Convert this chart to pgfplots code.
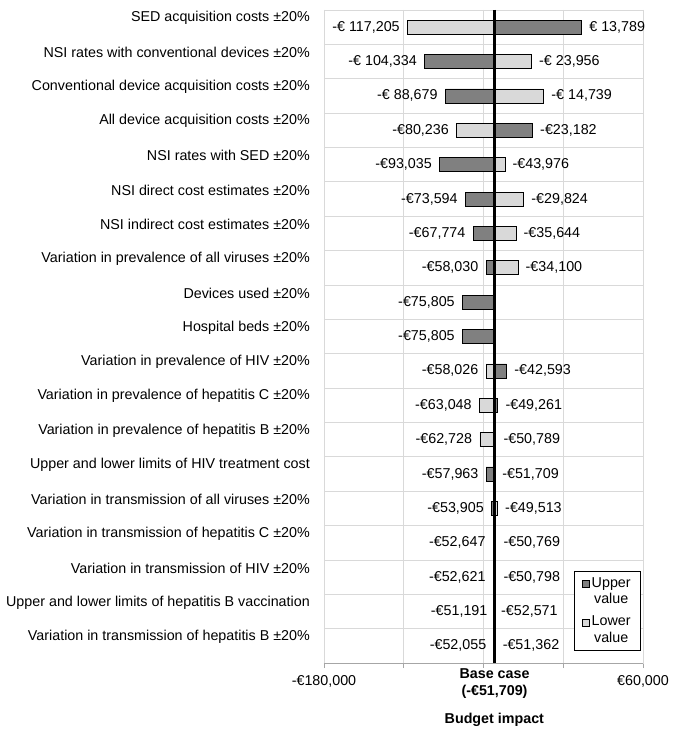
\documentclass[border=0pt]{standalone}
\usepackage{pgfplots}
\pgfplotsset{compat=1.18}
\usepackage{pgfplotstable}
\usepackage{fontspec}
\setmainfont{Liberation Sans}

\definecolor{upperbar}{RGB}{128,128,128}
\definecolor{lowerbar}{RGB}{217,217,217}
\definecolor{gridgrey}{RGB}{217,217,217}

% bars start at the base case (-51,709), so x is shifted by this much
\def\shift{51709}

% upper value, label on the left of the bar
\pgfplotstableread[col sep=semicolon]{
row;val;lab
1;-104334;-€ 104,334
2;-88679;-€ 88,679
4;-93035;-€93,035
5;-73594;-€73,594
6;-67774;-€67,774
7;-58030;-€58,030
8;-75805;-€75,805
9;-75805;-€75,805
13;-57963;-€57,963
14;-53905;-€53,905
15;-52647;-€52,647
16;-52621;-€52,621
17;-51191;-€51,191
18;-52055;-€52,055
}\upperleft

% upper value, label on the right
\pgfplotstableread[col sep=semicolon]{
row;val;lab
0;13789;€ 13,789
3;-23182;-€23,182
10;-42593;-€42,593
11;-49261;-€49,261
12;-50789;-€50,789
}\upperright

% lower value, label on the left
\pgfplotstableread[col sep=semicolon]{
row;val;lab
0;-117205;-€ 117,205
3;-80236;-€80,236
10;-58026;-€58,026
11;-63048;-€63,048
12;-62728;-€62,728
}\lowerleft

% lower value, label on the right
\pgfplotstableread[col sep=semicolon]{
row;val;lab
1;-23956;-€ 23,956
2;-14739;-€ 14,739
4;-43976;-€43,976
5;-29824;-€29,824
6;-35644;-€35,644
7;-34100;-€34,100
13;-51709;-€51,709
14;-49513;-€49,513
15;-50769;-€50,769
16;-50798;-€50,798
17;-52571;-€52,571
18;-51362;-€51,362
}\lowerright

\begin{document}
\fontsize{14.3}{16.7}\selectfont
\begin{tikzpicture}
\begin{axis}[
    scale only axis,
    width=319pt, height=653pt,
    xmin=-128291, xmax=111709,
    ymin=-0.5, ymax=18.5,
    y dir=reverse,
    xbar, bar width=14pt, bar shift=0pt,
    axis line style={draw=gridgrey},
    tick align=outside,
    xtick pos=bottom,
    scaled x ticks=false,
    xtick={-128291,-68291,-8291,51709,111709},
    xticklabels={{-€180,000},{},{},{},{€60,000}},
    xmajorgrids,
    grid style={gridgrey, line width=0.8pt},
    major tick length=5pt,
    tick style={gray!70, line width=0.6pt},
    xticklabel style={yshift=-3pt},
    extra x ticks={0},
    extra x tick labels={{\textbf{Base case}\\\textbf{(-€51,709)}}},
    extra x tick style={grid=none, major tick length=0pt,
        xticklabel style={align=center, yshift=2pt}},
    xlabel={\textbf{Budget impact}},
    xlabel style={at={(axis description cs:0.534,0)}, anchor=center, yshift=-57pt},
    ytick={0,...,18},
    yticklabels={
        SED acquisition costs ±20\%,
        NSI rates with conventional devices ±20\%,
        Conventional device acquisition costs ±20\%,
        All device acquisition costs ±20\%,
        NSI rates with SED ±20\%,
        NSI direct cost estimates ±20\%,
        NSI indirect cost estimates ±20\%,
        Variation in prevalence of all viruses ±20\%,
        Devices used ±20\%,
        Hospital beds ±20\%,
        Variation in prevalence of HIV ±20\%,
        Variation in prevalence of hepatitis C ±20\%,
        Variation in prevalence of hepatitis B ±20\%,
        Upper and lower limits of HIV treatment cost,
        Variation in transmission of all viruses ±20\%,
        Variation in transmission of hepatitis C ±20\%,
        Variation in transmission of HIV ±20\%,
        Upper and lower limits of hepatitis B vaccination,
        Variation in transmission of hepatitis B ±20\%},
    ytick pos=left,
    ytick style={draw=none},
    yticklabel style={anchor=east, inner xsep=0pt, xshift=-9pt, yshift=9pt},
    minor ytick={-0.5,0.5,...,18.5},
    yminorgrids,
    minor y grid style={gridgrey, line width=0.8pt},
    minor tick length=0pt,
    legend style={at={(axis description cs:0.9937,0.0184)}, anchor=south east,
        draw=black, line width=0.6pt, inner xsep=8pt, inner ysep=4pt,
        row sep=6pt,
        nodes={align=center, inner xsep=2pt, inner ysep=2pt},
        cells={anchor=west}},
    point meta=explicit symbolic,
    nodes near coords,
    leftlab/.style={every node near coord/.append style={anchor=east, inner xsep=7.5pt, black}},
    rightlab/.style={every node near coord/.append style={anchor=west, inner xsep=7.5pt, black}},
]
\addplot[forget plot, draw=black, line width=0.6pt, fill=upperbar, leftlab]
    table[x expr=\thisrow{val}+\shift, y=row, meta=lab] {\upperleft};
\addplot[forget plot, draw=black, line width=0.6pt, fill=upperbar, rightlab]
    table[x expr=\thisrow{val}+\shift, y=row, meta=lab] {\upperright};
\addplot[forget plot, draw=black, line width=0.6pt, fill=lowerbar, leftlab]
    table[x expr=\thisrow{val}+\shift, y=row, meta=lab] {\lowerleft};
\addplot[forget plot, draw=black, line width=0.6pt, fill=lowerbar, rightlab]
    table[x expr=\thisrow{val}+\shift, y=row, meta=lab] {\lowerright};
\addlegendimage{legend image code/.code={\draw[draw=black, fill=upperbar, line width=0.6pt] (0pt,4.5pt) rectangle (7pt,11pt);}}
\addlegendentry{Upper\\value}
\addlegendimage{legend image code/.code={\draw[draw=black, fill=lowerbar, line width=0.6pt] (0pt,4.5pt) rectangle (7pt,11pt);}}
\addlegendentry{Lower\\value}
% darker bottom axis line
\draw[gray!70, line width=0.8pt] (rel axis cs:0,0) -- (rel axis cs:1,0);
% base case line with its ticks
\draw[black, line width=2.5pt] (axis cs:0,-0.5) -- (axis cs:0,18.5);
\pgfplotsinvokeforeach{-0.5,0.5,...,18.5}{
    \draw[black, line width=1.5pt] (axis cs:0,#1) ++(-3pt,0) -- ++(8pt,0);
}
\coordinate (plotsw) at (rel axis cs:0,0);
\coordinate (plotne) at (rel axis cs:1,1);
\end{axis}
% picture frame as in the reference
\path ([shift={(-324pt,-69pt)}]plotsw) rectangle ([shift={(42pt,10pt)}]plotne);
\end{tikzpicture}
\end{document}
